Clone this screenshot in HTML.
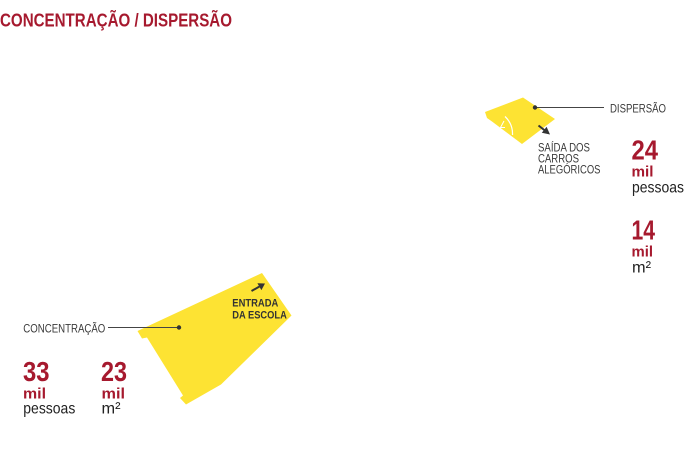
<!DOCTYPE html>
<html>
<head>
<meta charset="utf-8">
<style>
  html,body{margin:0;padding:0;background:#fff;}
  svg{display:block;}
  text{font-family:"Liberation Sans", sans-serif;}
</style>
</head>
<body>
<svg width="700" height="450" viewBox="0 0 700 450" xmlns="http://www.w3.org/2000/svg">
  <rect width="700" height="450" fill="#ffffff"/>

  <!-- Title -->
  <text x="0" y="26.5" font-size="18" font-weight="bold" fill="#a6192e" textLength="232" lengthAdjust="spacingAndGlyphs">CONCENTRAÇÃO / DISPERSÃO</text>

  <!-- Small polygon (dispersão) -->
  <polygon points="485,112 523,97.5 555,119 522,144 492,121.5 487,118" fill="#fde333"/>
  <path d="M505,116.5 Q513,124 512.5,135" stroke="#ffffff" stroke-width="1.2" fill="none"/>
  <path d="M504,121 L500.5,127.5 L505,127.5" stroke="#ffffff" stroke-width="1" fill="none"/>

  <!-- Dispersão label -->
  <line x1="535" y1="107.5" x2="604" y2="107.5" stroke="#444" stroke-width="1"/>
  <circle cx="535" cy="107.5" r="2.2" fill="#333"/>
  <text x="610" y="112.5" font-size="12" fill="#3a3a3a" textLength="56" lengthAdjust="spacingAndGlyphs">DISPERSÃO</text>

  <!-- Small arrow -->
  <line x1="538.5" y1="125.5" x2="545.5" y2="131" stroke="#333" stroke-width="2"/>
  <polygon points="550,134.5 541.8,132.7 546.6,126.8" fill="#333"/>

  <text x="538" y="151.5" font-size="11.5" fill="#3a3a3a" textLength="52" lengthAdjust="spacingAndGlyphs">SAÍDA DOS</text>
  <text x="538" y="162.5" font-size="11.5" fill="#3a3a3a" textLength="41" lengthAdjust="spacingAndGlyphs">CARROS</text>
  <text x="538" y="173.5" font-size="11.5" fill="#3a3a3a" textLength="62.5" lengthAdjust="spacingAndGlyphs">ALEGÓRICOS</text>

  <!-- Right stats -->
  <text x="631.5" y="159.5" font-size="28" font-weight="bold" fill="#a6192e" textLength="26.5" lengthAdjust="spacingAndGlyphs">24</text>
  <text x="631.5" y="176.5" font-size="15" font-weight="bold" fill="#a6192e" textLength="22" lengthAdjust="spacingAndGlyphs">mil</text>
  <text x="632" y="192.5" font-size="16" fill="#222" textLength="52" lengthAdjust="spacingAndGlyphs">pessoas</text>

  <text x="631.5" y="239.5" font-size="28" font-weight="bold" fill="#a6192e" textLength="23.5" lengthAdjust="spacingAndGlyphs">14</text>
  <text x="631.5" y="256.5" font-size="15" font-weight="bold" fill="#a6192e" textLength="21.5" lengthAdjust="spacingAndGlyphs">mil</text>
  <text x="632" y="272.5" font-size="16" fill="#222" textLength="19" lengthAdjust="spacingAndGlyphs">m²</text>

  <!-- Big polygon (concentração) -->
  <polygon points="137.5,331 262,273 291.5,315.5 221,384.5 186,404.5 180,398 183,395.5 147,337.5 142,338.5" fill="#fde333"/>

  <!-- Entrada arrow -->
  <line x1="251.5" y1="291" x2="259.5" y2="286.5" stroke="#333" stroke-width="2"/>
  <polygon points="265,283.5 257.4,283.2 261.4,290.1" fill="#333"/>
  <text x="232.3" y="306.5" font-size="11" font-weight="bold" fill="#333" textLength="46" lengthAdjust="spacingAndGlyphs">ENTRADA</text>
  <text x="232.3" y="318.5" font-size="11" font-weight="bold" fill="#333" textLength="54.5" lengthAdjust="spacingAndGlyphs">DA ESCOLA</text>

  <!-- Concentração label -->
  <line x1="108" y1="327.5" x2="179" y2="327.5" stroke="#444" stroke-width="1"/>
  <circle cx="179" cy="327.5" r="2.2" fill="#333"/>
  <text x="23.3" y="332.5" font-size="12" fill="#3a3a3a" textLength="82" lengthAdjust="spacingAndGlyphs">CONCENTRAÇÃO</text>

  <!-- Left stats -->
  <text x="23" y="381" font-size="28" font-weight="bold" fill="#a6192e" textLength="26.5" lengthAdjust="spacingAndGlyphs">33</text>
  <text x="23" y="398.5" font-size="15" font-weight="bold" fill="#a6192e" textLength="23" lengthAdjust="spacingAndGlyphs">mil</text>
  <text x="23.3" y="413.5" font-size="16" fill="#222" textLength="52" lengthAdjust="spacingAndGlyphs">pessoas</text>

  <text x="101" y="381" font-size="28" font-weight="bold" fill="#a6192e" textLength="26" lengthAdjust="spacingAndGlyphs">23</text>
  <text x="101.5" y="398.5" font-size="15" font-weight="bold" fill="#a6192e" textLength="23.5" lengthAdjust="spacingAndGlyphs">mil</text>
  <text x="101.5" y="413.5" font-size="16" fill="#222" textLength="19" lengthAdjust="spacingAndGlyphs">m²</text>
</svg>
</body>
</html>
